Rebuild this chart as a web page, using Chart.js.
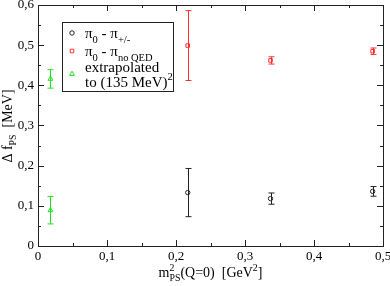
<!DOCTYPE html>
<html>
<head>
<meta charset="utf-8">
<script src="https://cdn.jsdelivr.net/npm/chart.js@4/dist/chart.umd.min.js"></script>
<style>
  html, body { margin: 0; padding: 0; background: #fff; }
  #wrap { width: 390px; height: 286px; }
</style>
</head>
<body>
<div id="wrap"><canvas id="c" width="390" height="286"></canvas></div>
<script>
// data
const pionX = [0.217, 0.337, 0.485];
const pionDiff = [0.133, 0.118, 0.136];
const pionErr = [0.060, 0.014, 0.012];

const noQedX = [0.217, 0.337, 0.485];
const noQedDiff = [0.499, 0.462, 0.485];
const noQedErr = [0.087, 0.009, 0.008];

const extrapX = [0.018, 0.018];
const extrapDiff = [0.416, 0.089];
const extrapErr = [0.023, 0.034];

const xTicks = [0, 0.1, 0.2, 0.3, 0.4, 0.5];
const yTicks = [0, 0.1, 0.2, 0.3, 0.4, 0.5, 0.6];

const SERIF = "'Liberation Serif', 'DejaVu Serif', serif";

function pts(xs, ys) {
  return xs.map((x, i) => ({ x: x, y: ys[i] }));
}

function fmt(v) {
  const s = Math.abs(v) < 1e-9 ? '0' : v.toFixed(1);
  return s.replace('.', ',');
}

// draw text with sub/superscripts; parts: {t, m: 'n'|'sub'|'sup', stay}
function richWidth(ctx, parts, size) {
  let w = 0;
  parts.forEach(p => {
    const s = p.m === 'n' ? size : size * 0.7;
    ctx.font = s + 'px ' + SERIF;
    if (!p.stay) w += ctx.measureText(p.t).width;
  });
  return w;
}
function richText(ctx, parts, x, y, size) {
  parts.forEach(p => {
    const s = p.m === 'n' ? size : size * 0.7;
    ctx.font = s + 'px ' + SERIF;
    let dy = 0;
    if (p.m === 'sub') dy = size * 0.3;
    if (p.m === 'sup') dy = -size * 0.45;
    ctx.fillText(p.t, x, y + dy);
    if (!p.stay) x += ctx.measureText(p.t).width;
  });
}

const errorBars = {
  id: 'errorBars',
  beforeDatasetsDraw(chart) {
    const ctx = chart.ctx;
    const yScale = chart.scales.y;
    chart.data.datasets.forEach((ds, di) => {
      const meta = chart.getDatasetMeta(di);
      ctx.save();
      ctx.strokeStyle = ds.borderColor;
      ctx.lineWidth = 1;
      meta.data.forEach((el, i) => {
        const v = ds.data[i].y, e = ds.errors[i];
        const x = Math.round(el.x) + 0.5;
        const y1 = yScale.getPixelForValue(v + e);
        const y2 = yScale.getPixelForValue(v - e);
        ctx.beginPath();
        ctx.moveTo(x, y1); ctx.lineTo(x, y2);
        ctx.moveTo(x - 3, y1); ctx.lineTo(x + 3, y1);
        ctx.moveTo(x - 3, y2); ctx.lineTo(x + 3, y2);
        ctx.stroke();
      });
      ctx.restore();
    });
  }
};

const frame = {
  id: 'frame',
  afterDraw(chart) {
    const ctx = chart.ctx;
    const a = chart.chartArea;
    const xs = chart.scales.x, ys = chart.scales.y;
    ctx.save();
    ctx.strokeStyle = '#222';
    ctx.lineWidth = 1;
    ctx.strokeRect(Math.round(a.left) + 0.5, Math.round(a.top) + 0.5,
      Math.round(a.right - a.left), Math.round(a.bottom - a.top));
    ctx.beginPath();
    for (let k = 0; k <= 10; k++) {
      const len = k % 2 === 0 ? 6 : 3;
      const px = Math.round(xs.getPixelForValue(k * 0.05)) + 0.5;
      ctx.moveTo(px, a.bottom); ctx.lineTo(px, a.bottom - len);
      ctx.moveTo(px, a.top); ctx.lineTo(px, a.top + len);
    }
    for (let k = 0; k <= 12; k++) {
      const len = k % 2 === 0 ? 6 : 3;
      const py = Math.round(ys.getPixelForValue(k * 0.05)) + 0.5;
      ctx.moveTo(a.left, py); ctx.lineTo(a.left + len, py);
      ctx.moveTo(a.right, py); ctx.lineTo(a.right - len, py);
    }
    ctx.stroke();

    // axis titles
    ctx.fillStyle = '#000';
    ctx.textBaseline = 'alphabetic';
    ctx.textAlign = 'left';
    const xt = [
      { t: 'm', m: 'n' }, { t: '2', m: 'sup', stay: true }, { t: 'PS', m: 'sub' },
      { t: '(Q=0)  [GeV', m: 'n' }, { t: '2', m: 'sup' }, { t: ']', m: 'n' }
    ];
    const xw = richWidth(ctx, xt, 14);
    richText(ctx, xt, (a.left + a.right) / 2 - xw / 2, 277, 14);

    const yt = [{ t: '\u0394 f', m: 'n' }, { t: 'PS', m: 'sub' }, { t: '  [MeV]', m: 'n' }];
    const yw = richWidth(ctx, yt, 14);
    ctx.save();
    ctx.translate(12, 126);
    ctx.rotate(-Math.PI / 2);
    richText(ctx, yt, -yw / 2, 0, 14);
    ctx.restore();

    // legend box
    ctx.strokeStyle = '#222';
    ctx.strokeRect(62.5, 22.5, 111, 69);
    const rows = [
      { y: 33, parts: [{ t: '\u03c0', m: 'n' }, { t: '0', m: 'sub' }, { t: ' - \u03c0', m: 'n' }, { t: '+/-', m: 'sub' }] },
      { y: 51, parts: [{ t: '\u03c0', m: 'n' }, { t: '0', m: 'sub' }, { t: ' - \u03c0', m: 'n' }, { t: 'no QED', m: 'sub' }] },
      { y: 67, parts: [{ t: 'extrapolated', m: 'n' }] },
      { y: 82, parts: [{ t: 'to (135 MeV)', m: 'n' }, { t: '2', m: 'sup' }] }
    ];
    rows.forEach(r => richText(ctx, r.parts, 85, r.y + 5, 15));
    const sym = [[72, 33], [72, 51], [72, 74]];
    chart.data.datasets.forEach((ds, i) => {
      ctx.strokeStyle = ds.borderColor;
      ctx.fillStyle = 'rgba(0,0,0,0)';
      ctx.lineWidth = 1;
      Chart.helpers.drawPoint(ctx, {
        pointStyle: ds.pointStyle, radius: ds.pointRadius, borderWidth: 1, rotation: 0
      }, sym[i][0], sym[i][1]);
    });
    ctx.restore();
  }
};

new Chart(document.getElementById('c'), {
  type: 'scatter',
  data: {
    datasets: [
      { label: 'pi0 - pi+/-', data: pts(pionX, pionDiff), errors: pionErr,
        borderColor: '#222', backgroundColor: 'rgba(0,0,0,0)', pointStyle: 'circle', pointRadius: 2.2, borderWidth: 1 },
      { label: 'pi0 - pi no QED', data: pts(noQedX, noQedDiff), errors: noQedErr,
        borderColor: '#ff3030', backgroundColor: 'rgba(0,0,0,0)', pointStyle: 'rect', pointRadius: 2.5, borderWidth: 1 },
      { label: 'extrapolated to (135 MeV)^2', data: pts(extrapX, extrapDiff), errors: extrapErr,
        borderColor: '#22e022', backgroundColor: 'rgba(0,0,0,0)', pointStyle: 'triangle', pointRadius: 2.8, borderWidth: 1 }
    ]
  },
  options: {
    responsive: false,
    animation: false,
    layout: { padding: { top: 5, right: 7, left: 0, bottom: 0 } },
    plugins: { legend: { display: false }, tooltip: { enabled: false } },
    scales: {
      x: {
        type: 'linear', min: 0, max: 0.5,
        afterBuildTicks: s => { s.ticks = xTicks.map(v => ({ value: v })); },
        afterFit: s => { s.height = 40; s.paddingLeft = 0; s.paddingRight = 0; },
        grid: { display: false, drawTicks: false },
        border: { display: false },
        ticks: { callback: fmt, font: { family: SERIF, size: 13 }, color: '#000', padding: 3, maxRotation: 0 }
      },
      y: {
        type: 'linear', min: 0, max: 0.6,
        afterBuildTicks: s => { s.ticks = yTicks.map(v => ({ value: v })); },
        afterFit: s => { s.width = 38; s.paddingTop = 0; s.paddingBottom = 0; },
        grid: { display: false, drawTicks: false },
        border: { display: false },
        ticks: { callback: fmt, font: { family: SERIF, size: 13 }, color: '#000', padding: 4 }
      }
    }
  },
  plugins: [errorBars, frame]
});
</script>
</body>
</html>
